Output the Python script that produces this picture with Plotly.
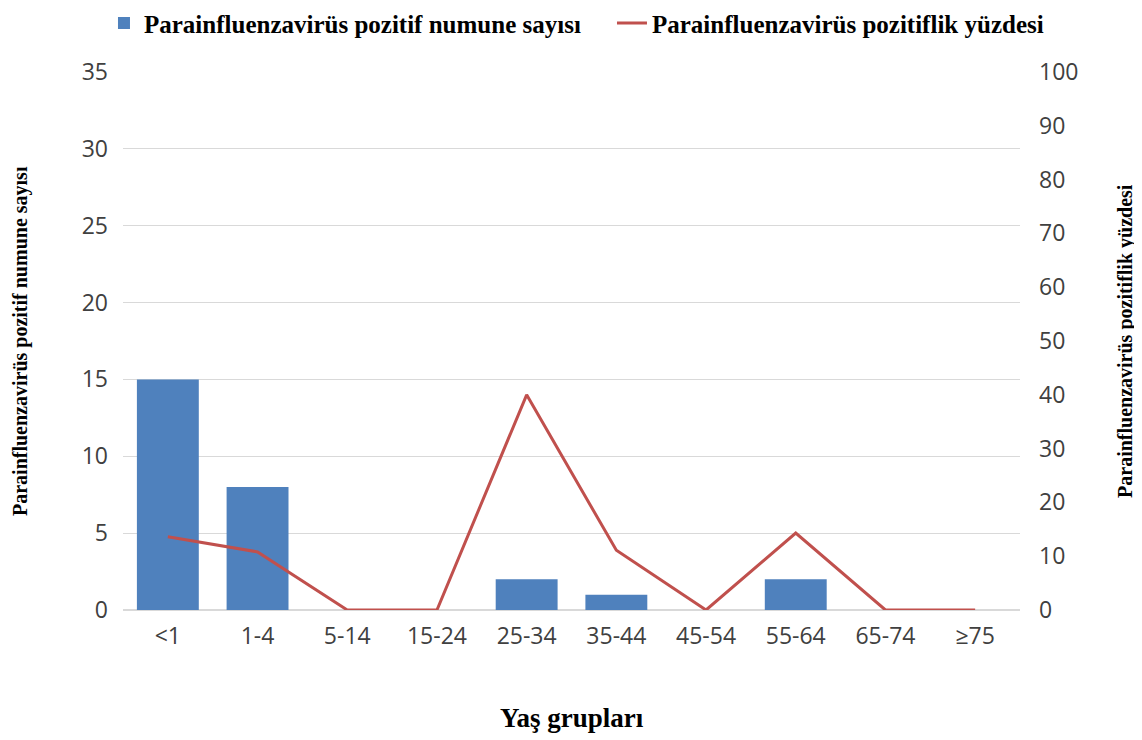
import plotly.graph_objects as go

categories = ["<1", "1-4", "5-14", "15-24", "25-34", "35-44", "45-54", "55-64", "65-74", "≥75"]
positive_counts = [15, 8, 0, 0, 2, 1, 0, 2, 0, 0]
positive_percent = [13.6, 10.8, 0, 0, 40.0, 11.1, 0, 14.3, 0, 0]
left_ticks = [0, 5, 10, 15, 20, 25, 30, 35]
right_ticks = [0, 10, 20, 30, 40, 50, 60, 70, 80, 90, 100]

bar_name = "Parainfluenzavirüs pozitif numune sayısı"
line_name = "Parainfluenzavirüs pozitiflik yüzdesi"

serif = "Liberation Serif"
sans = "Open Sans"

fig = go.Figure()
fig.add_trace(go.Bar(
    x=categories, y=positive_counts, name="<b>" + bar_name + "</b>",
    marker=dict(color="#4F81BD", line=dict(width=0)),
    yaxis="y",
))
fig.add_trace(go.Scatter(
    x=categories, y=positive_percent, name="<b>" + line_name + "</b>",
    mode="lines", line=dict(color="#C0504D", width=3),
    yaxis="y2",
))

fig.update_layout(
    width=1134, height=732,
    margin=dict(l=115, r=122, t=64, b=130, autoexpand=False),
    plot_bgcolor="white", paper_bgcolor="white",
    bargap=0.31,
    showlegend=True,
    legend=dict(
        orientation="h", x=-0.0212, xanchor="left", xref="paper",
        y=1.048, yanchor="bottom", yref="paper",
        font=dict(family=serif, size=25, color="black"),
        itemwidth=30, tracegroupgap=0, bgcolor="rgba(0,0,0,0)",
        borderwidth=0, entrywidth=463, entrywidthmode="pixels",
    ),
    xaxis=dict(
        type="category", showgrid=False, showline=False, ticks="",
        tickfont=dict(family=sans, size=23, color="#404040"),
        ticklabelstandoff=10, automargin=False,
    ),
    yaxis=dict(
        range=[0, 35], tickvals=left_ticks, showgrid=True, gridcolor="#D9D9D9",
        gridwidth=1, zeroline=True, zerolinecolor="#D9D9D9", showline=False,
        ticks="", tickfont=dict(family=sans, size=23, color="#404040"),
        ticklabelstandoff=14, automargin=False,
    ),
    yaxis2=dict(
        range=[0, 100], tickvals=right_ticks, overlaying="y", side="right",
        showgrid=False, zeroline=False, showline=False, ticks="",
        tickfont=dict(family=sans, size=23, color="#404040"),
        ticklabelstandoff=18, automargin=False,
    ),
    annotations=[
        dict(text="<b>Yaş grupları</b>", xref="paper", yref="paper",
             x=0.5, y=-0.2, xanchor="center", yanchor="middle", showarrow=False,
             font=dict(family=serif, size=27, color="black")),
        dict(text="<b>" + bar_name + "</b>", xref="paper", yref="paper",
             x=-0.1148, y=0.5, xanchor="center", yanchor="middle", showarrow=False,
             textangle=-90, font=dict(family=serif, size=20, color="black")),
        dict(text="<b>" + line_name + "</b>", xref="paper", yref="paper",
             x=1.117, y=0.5, xanchor="center", yanchor="middle", showarrow=False,
             textangle=-90, font=dict(family=serif, size=20, color="black")),
    ],
)

fig.write_html("out.html")
